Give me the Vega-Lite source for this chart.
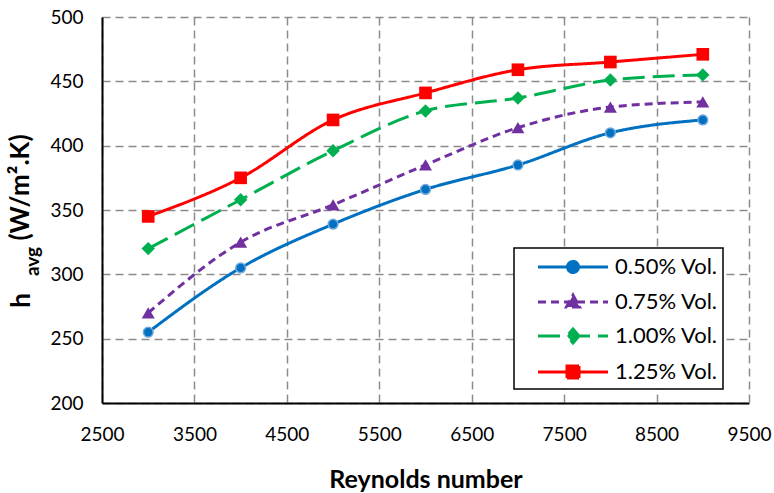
{
  "$schema": "https://vega.github.io/schema/vega-lite/v6.json",
  "width": 647,
  "height": 386,
  "autosize": "none",
  "padding": {"left": 102, "top": 17, "right": 25, "bottom": 90},
  "background": "white",
  "config": {
    "view": {"stroke": null},
    "font": "Lato",
    "axis": {
      "labelFont": "Lato",
      "labelFontSize": 19,
      "labelColor": "black",
      "labelFlush": false,
      "labelOverlap": false,
      "titleFont": "Lato",
      "titleFontWeight": "bold",
      "titleColor": "black",
      "ticks": false,
      "gridColor": "#8c8c8c",
      "gridDash": [8, 5],
      "gridWidth": 1.5,
      "domainColor": "black",
      "domainWidth": 2
    }
  },
  "data": {
    "values": [
      {"Re": 3000, "h": 255, "series": "0.50% Vol."},
      {"Re": 4000, "h": 305, "series": "0.50% Vol."},
      {"Re": 5000, "h": 339, "series": "0.50% Vol."},
      {"Re": 6000, "h": 366, "series": "0.50% Vol."},
      {"Re": 7000, "h": 385, "series": "0.50% Vol."},
      {"Re": 8000, "h": 410, "series": "0.50% Vol."},
      {"Re": 9000, "h": 420, "series": "0.50% Vol."},
      {"Re": 3000, "h": 270, "series": "0.75% Vol."},
      {"Re": 4000, "h": 325, "series": "0.75% Vol."},
      {"Re": 5000, "h": 354, "series": "0.75% Vol."},
      {"Re": 6000, "h": 385, "series": "0.75% Vol."},
      {"Re": 7000, "h": 414, "series": "0.75% Vol."},
      {"Re": 8000, "h": 430, "series": "0.75% Vol."},
      {"Re": 9000, "h": 434, "series": "0.75% Vol."},
      {"Re": 3000, "h": 320, "series": "1.00% Vol."},
      {"Re": 4000, "h": 358, "series": "1.00% Vol."},
      {"Re": 5000, "h": 396, "series": "1.00% Vol."},
      {"Re": 6000, "h": 427, "series": "1.00% Vol."},
      {"Re": 7000, "h": 437, "series": "1.00% Vol."},
      {"Re": 8000, "h": 451, "series": "1.00% Vol."},
      {"Re": 9000, "h": 455, "series": "1.00% Vol."},
      {"Re": 3000, "h": 345, "series": "1.25% Vol."},
      {"Re": 4000, "h": 375, "series": "1.25% Vol."},
      {"Re": 5000, "h": 420, "series": "1.25% Vol."},
      {"Re": 6000, "h": 441, "series": "1.25% Vol."},
      {"Re": 7000, "h": 459, "series": "1.25% Vol."},
      {"Re": 8000, "h": 465, "series": "1.25% Vol."},
      {"Re": 9000, "h": 471, "series": "1.25% Vol."}
    ]
  },
  "resolve": {"axis": {"x": "independent", "y": "independent"}},
  "layer": [
    {
      "mark": {"type": "line", "interpolate": "monotone", "strokeWidth": 3},
      "encoding": {
        "x": {
          "field": "Re", "type": "quantitative",
          "scale": {"domain": [2500, 9500], "nice": false, "zero": false},
          "axis": {
            "values": [2500, 3500, 4500, 5500, 6500, 7500, 8500, 9500],
            "format": "d",
            "labelPadding": 22,
            "title": "Reynolds number",
            "titleFontSize": 25,
            "titleY": 76,
            "titleBaseline": "middle"
          }
        },
        "y": {
          "field": "h", "type": "quantitative",
          "scale": {"domain": [200, 500], "nice": false, "zero": false},
          "axis": {
            "values": [200, 250, 300, 350, 400, 450, 500],
            "labelPadding": 19,
            "title": "(W/m².K)",
            "titleFontSize": 26,
            "titleAngle": 270,
            "titleX": -82,
            "titleY": 170,
            "titleAlign": "center",
            "titleBaseline": "middle"
          }
        },
        "color": {
          "field": "series", "type": "nominal",
          "scale": {
            "domain": ["0.50% Vol.", "0.75% Vol.", "1.00% Vol.", "1.25% Vol."],
            "range": ["#0070C0", "#7030A0", "#00B050", "#FF0000"]
          },
          "legend": {
            "title": null,
            "orient": "none",
            "legendX": 412,
            "legendY": 231,
            "padding": 5,
            "symbolSize": 625,
            "symbolStrokeWidth": 3,
            "symbolOffset": 40,
            "labelOffset": 28,
            "rowPadding": 9,
            "labelFont": "Lato",
            "labelFontSize": 22,
            "labelColor": "black",
            "fillColor": "white",
            "strokeColor": "black",
            "encode": {
              "symbols": {
                "update": {
                  "shape": {"scale": "shape", "field": "value"},
                  "strokeDash": {"scale": "strokeDash", "field": "value"},
                  "fill": {"scale": "color", "field": "value"},
                  "stroke": {"scale": "color", "field": "value"},
                  "strokeWidth": {"value": 3},
                  "size": {"value": 625},
                  "opacity": {"value": 1}
                }
              },
              "legend": {"update": {"strokeWidth": {"value": 1.5}}}
            }
          }
        },
        "strokeDash": {
          "field": "series", "type": "nominal",
          "scale": {
            "domain": ["0.50% Vol.", "0.75% Vol.", "1.00% Vol.", "1.25% Vol."],
            "range": [[1, 0], [8, 5], [22, 8], [1, 0]]
          },
          "legend": null
        }
      }
    },
    {
      "transform": [{"filter": {"field": "series", "equal": "0.50% Vol."}}],
      "mark": {"type": "point", "shape": "circle", "filled": true, "fill": "#0070C0", "stroke": "#6FA8DC", "strokeWidth": 1.5, "size": 95, "opacity": 1},
      "encoding": {
        "x": {"field": "Re", "type": "quantitative",
          "axis": {"orient": "top", "labels": false, "domain": false, "grid": false, "ticks": false,
            "title": "avg", "titleFontSize": 19, "titleAngle": 270, "titleX": -70, "titleY": 244,
            "titleAlign": "center", "titleBaseline": "middle"}},
        "y": {"field": "h", "type": "quantitative",
          "axis": {"orient": "right", "labels": false, "domain": false, "grid": false, "ticks": false,
            "title": "h", "titleFontSize": 26, "titleAngle": 270, "titleX": -728, "titleY": 283,
            "titleAlign": "center", "titleBaseline": "middle"}}
      }
    },
    {
      "transform": [{"filter": {"field": "series", "equal": "0.75% Vol."}}],
      "mark": {"type": "point", "shape": "triangle-up", "filled": true, "fill": "#7030A0", "size": 170, "opacity": 1},
      "encoding": {
        "x": {"field": "Re", "type": "quantitative", "axis": null},
        "y": {"field": "h", "type": "quantitative", "axis": null}
      }
    },
    {
      "transform": [{"filter": {"field": "series", "equal": "1.00% Vol."}}],
      "mark": {"type": "point", "shape": "diamond", "filled": true, "fill": "#00B050", "size": 180, "opacity": 1},
      "encoding": {
        "x": {"field": "Re", "type": "quantitative", "axis": null},
        "y": {"field": "h", "type": "quantitative", "axis": null}
      }
    },
    {
      "transform": [{"filter": {"field": "series", "equal": "1.25% Vol."}}],
      "mark": {"type": "point", "shape": "square", "filled": true, "fill": "#FF0000", "size": 160, "opacity": 1},
      "encoding": {
        "x": {"field": "Re", "type": "quantitative", "axis": null},
        "y": {"field": "h", "type": "quantitative", "axis": null}
      }
    },
    {
      "transform": [{"filter": "false"}],
      "mark": {"type": "point", "filled": true},
      "encoding": {
        "color": {"field": "series", "type": "nominal"},
        "shape": {
          "field": "series", "type": "nominal",
          "scale": {
            "domain": ["0.50% Vol.", "0.75% Vol.", "1.00% Vol.", "1.25% Vol."],
            "range": [
              "M-2.8,0H2.8M-0.44,0A0.44,0.44,0,1,0,0.44,0A0.44,0.44,0,1,0,-0.44,0Z",
              "M-2.8,0H2.8M0,-0.55L0.52,0.4L-0.52,0.4Z",
              "M-2.8,0H2.8M0,-0.55L0.48,0L0,0.55L-0.48,0Z",
              "M-2.8,0H2.8M-0.48,-0.48H0.48V0.48H-0.48Z"
            ]
          },
          "legend": null
        }
      }
    }
  ]
}
